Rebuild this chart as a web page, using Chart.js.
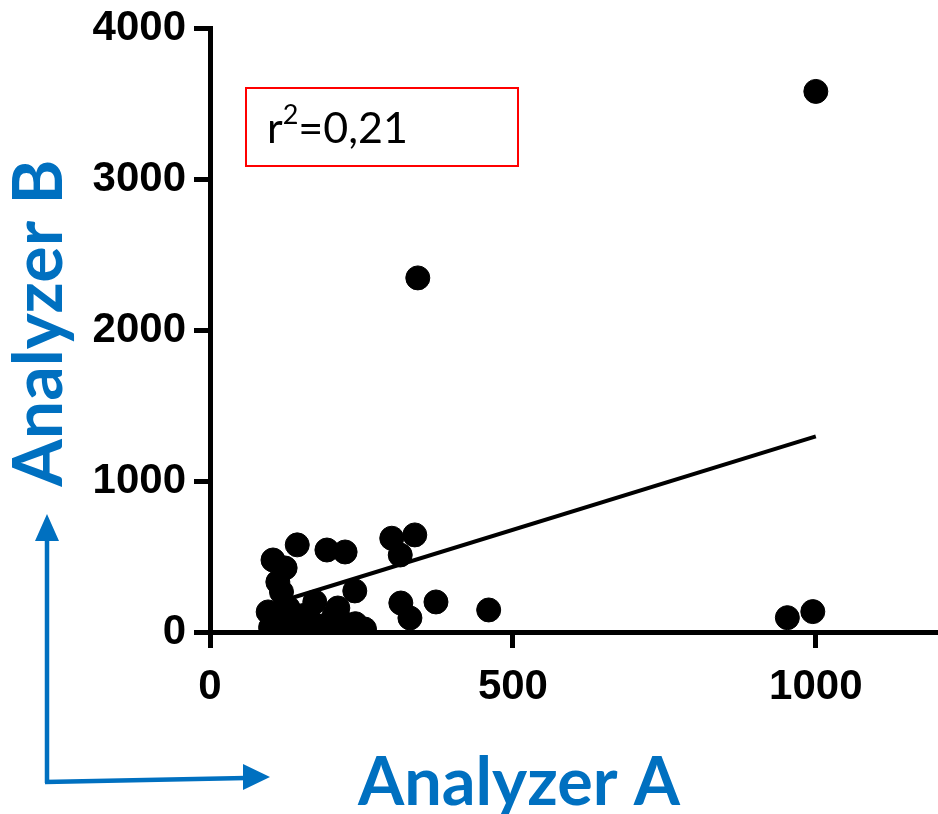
<!DOCTYPE html>
<html lang="en">
<head>
    <meta charset="UTF-8">
    <title>Analyzer A vs Analyzer B</title>
    <script src="https://cdn.jsdelivr.net/npm/chart.js@4.4.0/dist/chart.umd.min.js"></script>
    <style>
        * { margin: 0; padding: 0; box-sizing: border-box; }
        body { background: #fff; }
        #wrap { width: 938px; height: 814px; position: relative; }
    </style>
</head>
<body>
    <div id="wrap"><canvas id="chart"></canvas></div>

    <script>
        // axis ticks
        const xTicks = [0, 500, 1000];
        const yTicks = [0, 1000, 2000, 3000, 4000];

        const analyzerA = [1000, 343, 995, 953, 460, 144, 193, 223, 300, 338, 314, 239, 315, 330, 373,
                           104, 124, 112, 118, 173, 96, 129, 211,
                           100, 120, 140, 165, 185, 205, 220, 240, 255, 155];
        const analyzerB = [3580, 2345, 135, 95, 146, 577, 543, 530, 621, 643, 510, 272, 192, 93, 199,
                           477, 424, 331, 265, 199, 133, 159, 159,
                           30, 90, 60, 75, 40, 110, 60, 55, 20, 110];

        // linear fit end points
        const fitX = [96, 1000];
        const fitY = [177, 1296];
        const rSquared = '0,21';

        const BLUE = '#0070C0';
        const TICK_FONT = { family: 'Liberation Sans', weight: 'bold', size: 42 };

        function fitFont(ctx, text, width, weight, family) {
            ctx.font = weight + ' 100px ' + family;
            return 100 * width / ctx.measureText(text).width;
        }

        const decorations = {
            id: 'decorations',
            afterDraw(chart) {
                const ctx = chart.ctx;
                ctx.save();

                // r² box
                ctx.strokeStyle = '#ff0000';
                ctx.lineWidth = 2;
                ctx.strokeRect(246, 88, 272, 78);
                ctx.fillStyle = '#000';
                ctx.textBaseline = 'alphabetic';
                ctx.textAlign = 'left';
                let x = 267;
                ctx.font = '43px Lato';
                ctx.fillText('r', x, 143);
                x += ctx.measureText('r').width;
                ctx.font = '27px Lato';
                ctx.fillText('2', x, 124);
                x += ctx.measureText('2').width;
                ctx.font = '43px Lato';
                ctx.fillText('=' + rSquared, x, 143);

                // axis titles
                ctx.fillStyle = BLUE;
                let size = fitFont(ctx, 'Analyzer A', 322, 'bold', 'Lato');
                ctx.font = 'bold ' + size + 'px Lato';
                ctx.textAlign = 'center';
                ctx.fillText('Analyzer A', 519, 805);

                size = fitFont(ctx, 'Analyzer B', 327, 'bold', 'Lato');
                ctx.save();
                ctx.translate(62, 323);
                ctx.rotate(-Math.PI / 2);
                ctx.font = 'bold ' + size + 'px Lato';
                ctx.fillText('Analyzer B', 0, 0);
                ctx.restore();

                // arrows
                ctx.strokeStyle = BLUE;
                ctx.lineWidth = 4.5;
                ctx.beginPath();
                ctx.moveTo(47, 783);
                ctx.lineTo(47, 538);
                ctx.moveTo(45, 782);
                ctx.lineTo(246, 778);
                ctx.stroke();
                ctx.beginPath();
                ctx.moveTo(47, 514);
                ctx.lineTo(35, 541);
                ctx.lineTo(59, 541);
                ctx.closePath();
                ctx.moveTo(270, 777);
                ctx.lineTo(243, 764);
                ctx.lineTo(243, 790);
                ctx.closePath();
                ctx.fill();

                ctx.restore();
            }
        };

        const points = analyzerA.map((a, i) => ({ x: a, y: analyzerB[i] }));
        const fitLine = fitX.map((a, i) => ({ x: a, y: fitY[i] }));

        const axisCommon = {
            type: 'linear',
            grid: { drawOnChartArea: false, drawTicks: true, tickLength: 16, tickWidth: 5, color: '#000' },
            border: { width: 5, color: '#000' },
        };

        const chart = new Chart(document.getElementById('chart'), {
            type: 'scatter',
            data: {
                datasets: [{
                    data: points,
                    backgroundColor: '#000',
                    borderColor: '#000',
                    borderWidth: 1,
                    pointRadius: 12
                }, {
                    type: 'line',
                    data: fitLine,
                    borderColor: '#000',
                    borderWidth: 4,
                    pointRadius: 0,
                    fill: false
                }]
            },
            options: {
                responsive: true,
                maintainAspectRatio: false,
                animation: false,
                layout: { autoPadding: false, padding: { top: 28, right: 1, left: 0, bottom: 0 } },
                plugins: { legend: { display: false }, tooltip: { enabled: false } },
                scales: {
                    x: {
                        ...axisCommon,
                        min: 0, max: 1200,
                        afterBuildTicks: s => { s.ticks = xTicks.map(v => ({ value: v })); },
                        afterFit: s => { s.height = 182; s.paddingLeft = 0; s.paddingRight = 0; },
                        ticks: { color: '#000', font: TICK_FONT, padding: 14, maxRotation: 0, callback: v => String(v) }
                    },
                    y: {
                        ...axisCommon,
                        min: 0, max: 4000,
                        afterBuildTicks: s => { s.ticks = yTicks.map(v => ({ value: v })); },
                        afterFit: s => { s.width = 210; s.paddingTop = 0; s.paddingBottom = 0; },
                        ticks: { color: '#000', font: TICK_FONT, padding: 8, callback: v => String(v) }
                    }
                }
            },
            plugins: [decorations]
        });
    </script>
</body>
</html>
